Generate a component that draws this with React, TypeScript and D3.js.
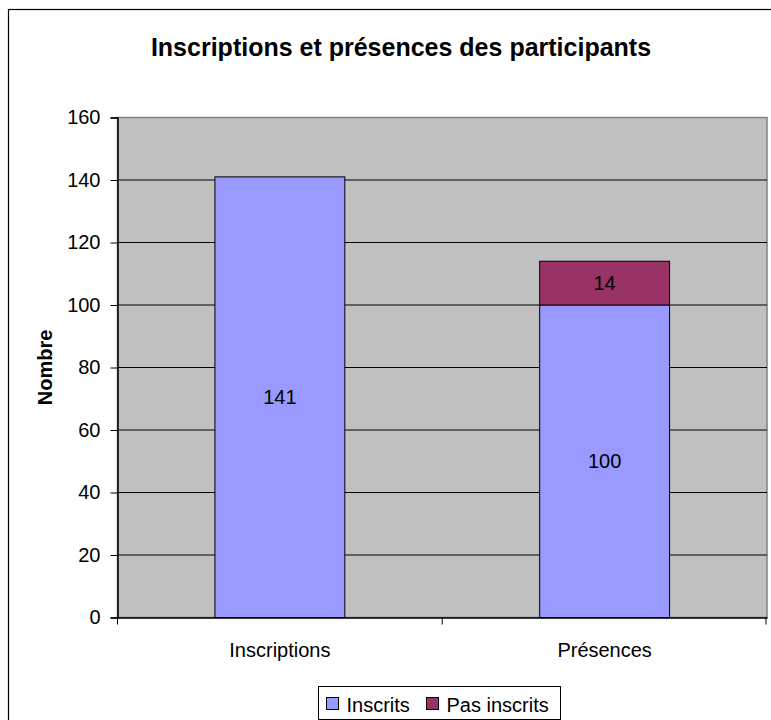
import React, { useEffect, useRef } from 'react';
import * as d3 from 'd3';

const categories = ['Inscriptions', 'Présences'];
const seriesNames = ['Inscrits', 'Pas inscrits'];
const inscrits = [141, 100];
const pasInscrits = [0, 14];
const yTicks = [0, 20, 40, 60, 80, 100, 120, 140, 160];
const colors = ['#9999FF', '#993366'];

const App = () => {
  const ref = useRef<SVGSVGElement>(null);

  useEffect(() => {
    const svg = d3.select(ref.current);
    svg.selectAll('*').remove();

    const width = 771, height = 720;
    const margin = { top: 117.5, right: 5, bottom: 102.5, left: 117.5 };
    const font = 'Arial, "Liberation Sans", sans-serif';

    // outer chart frame
    svg.append('rect')
      .attr('x', 8.5).attr('y', 9.5)
      .attr('width', width).attr('height', height)
      .attr('fill', 'white').attr('stroke', '#000').attr('stroke-width', 1.2);

    svg.append('text')
      .attr('x', 401).attr('y', 56)
      .attr('text-anchor', 'middle')
      .style('font-family', font).style('font-weight', 'bold').style('font-size', '25px')
      .text('Inscriptions et présences des participants');

    const x = d3.scaleBand()
      .domain(categories)
      .range([margin.left, width - margin.right + 1]);

    const y = d3.scaleLinear()
      .domain([0, 160])
      .range([height - margin.bottom, margin.top]);

    // plot background
    svg.append('rect')
      .attr('x', margin.left).attr('y', y(160))
      .attr('width', x.range()[1] - margin.left).attr('height', y(0) - y(160))
      .attr('fill', '#C0C0C0').attr('stroke', '#808080').attr('stroke-width', 1.5);

    // gridlines
    svg.append('g')
      .selectAll('line')
      .data(yTicks.filter(t => t > 0 && t < 160))
      .join('line')
      .attr('x1', margin.left).attr('x2', x.range()[1])
      .attr('y1', d => y(d)).attr('y2', d => y(d))
      .attr('stroke', '#000').attr('stroke-width', 1);

    const stacked = categories.map((c, i) => ({
      cat: c,
      segs: [
        { key: 0, y0: 0, y1: inscrits[i], v: inscrits[i] },
        { key: 1, y0: inscrits[i], y1: inscrits[i] + pasInscrits[i], v: pasInscrits[i] },
      ].filter(s => s.v > 0),
    }));

    const barW = x.bandwidth() * 0.4;
    const g = svg.append('g');
    stacked.forEach(s => {
      s.segs.forEach(seg => {
        const bx = x(s.cat)! + (x.bandwidth() - barW) / 2;
        g.append('rect')
          .attr('x', bx).attr('y', y(seg.y1))
          .attr('width', barW).attr('height', y(seg.y0) - y(seg.y1))
          .attr('fill', colors[seg.key]).attr('stroke', '#000').attr('stroke-width', 1);
        g.append('text')
          .attr('x', bx + barW / 2).attr('y', (y(seg.y0) + y(seg.y1)) / 2)
          .attr('dy', '0.35em').attr('text-anchor', 'middle')
          .style('font-family', font).style('font-size', '20px')
          .text(seg.v);
      });
    });

    // y axis
    const yAxis = svg.append('g')
      .attr('transform', `translate(${margin.left},0)`)
      .call(d3.axisLeft(y).tickValues(yTicks).tickSize(7).tickPadding(10));
    yAxis.select('.domain').attr('stroke', '#000').attr('stroke-width', 1.5);
    yAxis.selectAll('.tick line').attr('stroke', '#000');
    yAxis.selectAll('text')
      .style('font-family', font).style('font-size', '20px').attr('fill', '#000');

    // x axis
    const xAxis = svg.append('g')
      .attr('transform', `translate(0,${y(0)})`)
      .call(d3.axisBottom(x).tickSize(0).tickPadding(25));
    xAxis.select('.domain').attr('stroke', '#000').attr('stroke-width', 1.5);
    xAxis.selectAll('text')
      .style('font-family', font).style('font-size', '20px').attr('fill', '#000');
    xAxis.selectAll('.sep')
      .data([x.range()[0], x(categories[1])!, x.range()[1] - 1])
      .join('line')
      .attr('x1', d => d).attr('x2', d => d)
      .attr('y1', 0).attr('y2', 7)
      .attr('stroke', '#000');

    svg.append('text')
      .attr('transform', `translate(52,${(y(0) + y(160)) / 2}) rotate(-90)`)
      .attr('text-anchor', 'middle')
      .style('font-family', font).style('font-weight', 'bold').style('font-size', '20px')
      .text('Nombre');

    // legend
    const lg = svg.append('g').attr('transform', 'translate(318.5,686.5)');
    lg.append('rect')
      .attr('width', 242).attr('height', 33)
      .attr('fill', 'white').attr('stroke', '#000').attr('stroke-width', 1);
    const items = [{ x: 8 }, { x: 108 }];
    seriesNames.forEach((name, i) => {
      lg.append('rect')
        .attr('x', items[i].x).attr('y', 11)
        .attr('width', 12).attr('height', 12)
        .attr('fill', colors[i]).attr('stroke', '#000');
      lg.append('text')
        .attr('x', items[i].x + 20).attr('y', 25)
        .style('font-family', font).style('font-size', '20px')
        .text(name);
    });
  }, []);

  return (
    <div style={{ position: 'absolute', left: 0, top: 0 }}>
      <svg ref={ref} width={771} height={720} />
    </div>
  );
};

export default App;
